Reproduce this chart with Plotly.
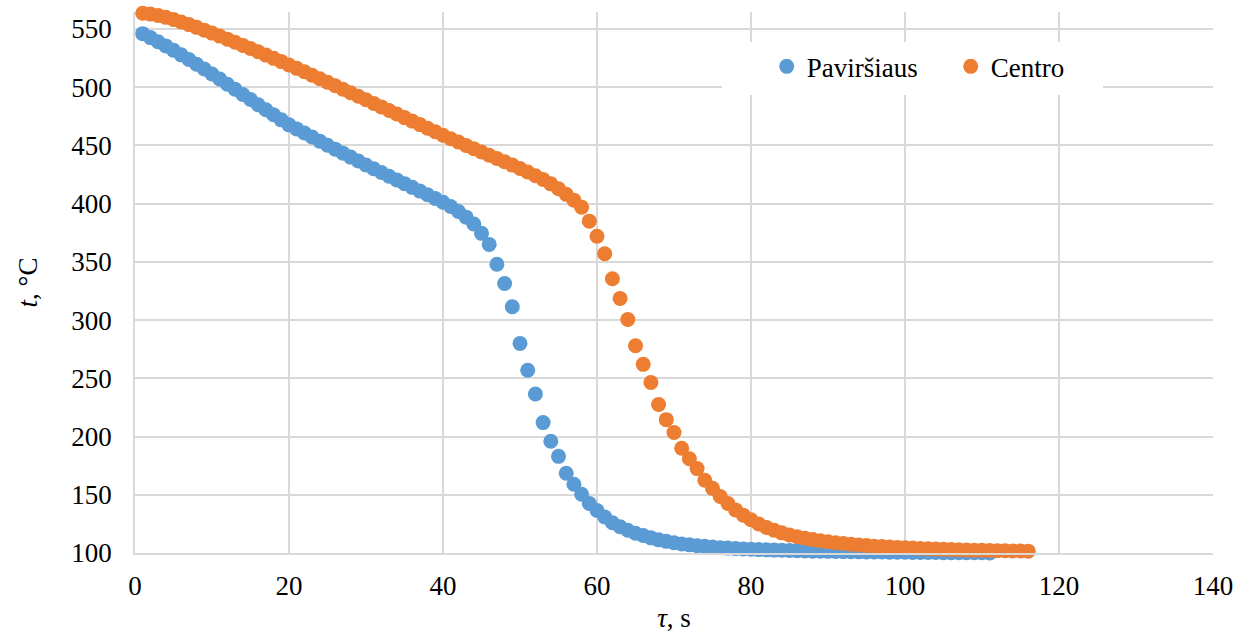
import plotly.graph_objects as go

# Time, s
tau_surface = list(range(1, 112))
tau_center = list(range(1, 117))

# Surface temperature, °C
t_surface = [
    546.0, 542.6, 539.1, 535.5, 531.7, 527.8, 523.8, 519.7, 515.6, 511.4,
    507.0, 502.6, 498.2, 493.8, 489.4, 485.0, 480.6, 476.3, 472.0, 467.7,
    464.2, 460.7, 457.2, 453.7, 450.2, 446.8, 443.4, 440.0, 436.6, 433.2,
    430.0, 426.8, 423.6, 420.4, 417.2, 414.0, 410.8, 407.6, 404.4, 401.2,
    397.6, 393.3, 388.4, 382.5, 374.5, 365.0, 348.0, 331.5, 311.5, 280.0,
    257.0, 236.5, 212.0, 196.0, 183.0, 168.5, 159.0, 150.5, 142.5, 136.5,
    131.0, 126.0, 122.5, 119.5, 117.0, 115.0, 113.0, 111.3, 110.0, 108.8,
    107.8, 107.0, 106.3, 105.7, 105.1, 104.6, 104.2, 103.8, 103.5, 103.2,
    102.9, 102.7, 102.5, 102.3, 102.1, 101.9, 101.8, 101.6, 101.5, 101.4,
    101.3, 101.2, 101.1, 101.0, 100.9, 100.8, 100.8, 100.7, 100.6, 100.6,
    100.5, 100.5, 100.4, 100.4, 100.3, 100.3, 100.3, 100.2, 100.2, 100.2,
    100.1,
]

# Center temperature, °C
t_center = [
    563.5, 562.8, 561.6, 560.0, 558.1, 556.0, 553.8, 551.4, 549.0, 546.5,
    543.9, 541.3, 538.6, 535.9, 533.2, 530.4, 527.6, 524.8, 522.0, 519.1,
    516.2, 513.3, 510.3, 507.3, 504.3, 501.3, 498.3, 495.3, 492.3, 489.2,
    486.1, 483.1, 480.0, 477.0, 473.9, 470.9, 467.9, 464.8, 461.8, 458.8,
    455.8, 452.9, 450.0, 447.2, 444.4, 441.6, 438.8, 436.0, 433.1, 430.2,
    427.2, 424.0, 420.7, 417.0, 412.8, 408.0, 403.0, 397.0, 385.0, 372.0,
    357.0, 335.5, 318.5, 300.5, 278.0, 262.0, 246.5, 227.5, 214.5, 203.5,
    190.0, 181.0, 172.5, 162.5, 155.5, 148.5, 142.5, 137.0, 132.5, 128.5,
    125.0, 122.0, 119.5, 117.3, 115.5, 114.0, 112.7, 111.5, 110.5, 109.6,
    108.8, 108.1, 107.5, 106.9, 106.4, 105.9, 105.5, 105.1, 104.8, 104.5,
    104.2, 103.9, 103.6, 103.4, 103.2, 103.0, 102.8, 102.6, 102.4, 102.3,
    102.1, 102.0, 101.9, 101.8, 101.7, 101.6,
]

x_ticks = [0, 20, 40, 60, 80, 100, 120, 140]
y_ticks = [100, 150, 200, 250, 300, 350, 400, 450, 500, 550]

FONT = "Liberation Serif"
GRID = "#d9d9d9"

fig = go.Figure()
fig.add_trace(go.Scatter(
    x=tau_surface, y=t_surface, mode="markers", name="Paviršiaus",
    marker=dict(color="#5b9bd5", size=15, line=dict(width=0)),
    cliponaxis=False,
))
fig.add_trace(go.Scatter(
    x=tau_center, y=t_center, mode="markers", name="Centro",
    marker=dict(color="#ed7d31", size=15, line=dict(width=0)),
    cliponaxis=False,
))

# white panel behind the legend (covers the grid there)
fig.add_shape(type="rect", xref="paper", yref="paper",
              x0=0.5443, x1=0.8979, y0=0.8466, y1=0.9445,
              fillcolor="white", line=dict(width=0), layer="above")

fig.update_layout(
    width=1238, height=633,
    margin=dict(l=135, r=25, t=12, b=80),
    paper_bgcolor="white", plot_bgcolor="white",
    font=dict(family=FONT, size=27, color="#000000"),
    showlegend=True,
    legend=dict(
        orientation="h", x=0.586, y=0.944, xanchor="left", yanchor="top",
        bgcolor="rgba(0,0,0,0)", font=dict(family=FONT, size=27),
        entrywidth=139, itemsizing="trace",
    ),
    xaxis=dict(
        range=[0, 140], tickvals=x_ticks, ticktext=[str(v) for v in x_ticks],
        showgrid=True, gridcolor=GRID, gridwidth=1.5,
        showline=True, linecolor=GRID, linewidth=1.5,
        zeroline=False, automargin=False,
        ticks="outside", ticklen=8, tickcolor="rgba(0,0,0,0)",
        title=dict(text="<i>τ</i>, s", standoff=10, font=dict(family=FONT, size=27)),
    ),
    yaxis=dict(
        range=[100, 564.6], tickvals=y_ticks, ticktext=[str(v) for v in y_ticks],
        showgrid=True, gridcolor=GRID, gridwidth=1.5,
        showline=True, linecolor=GRID, linewidth=1.5,
        zeroline=False, automargin=False,
        ticks="outside", ticklen=16, tickcolor="rgba(0,0,0,0)",
        title=dict(text="<i>t</i>, °C", standoff=26, font=dict(family=FONT, size=27)),
    ),
)

fig.write_html("out.html")
